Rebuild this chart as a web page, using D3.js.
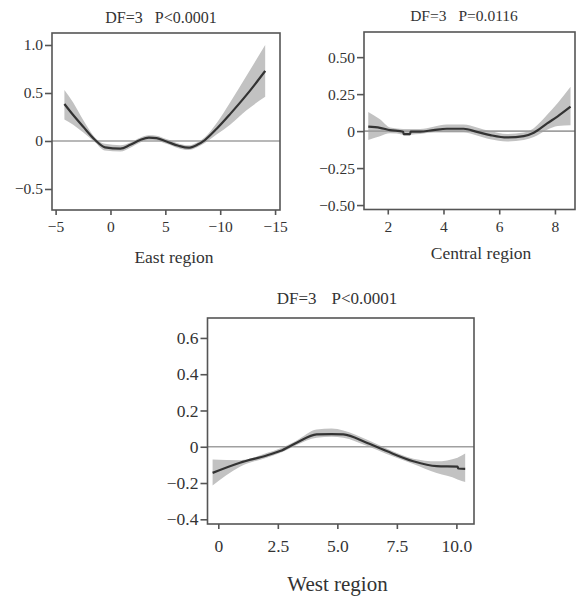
<!DOCTYPE html>
<html>
<head>
<meta charset="utf-8">
<script src="https://cdn.jsdelivr.net/npm/d3@7"></script>
<style>
  html, body { margin: 0; padding: 0; background: #fff; }
  svg { display: block; }
  text { font-family: "Liberation Serif", "Times New Roman", serif; fill: #333; }
</style>
</head>
<body>
<svg id="chart" width="576" height="597"></svg>
<script>
// ---------- East region ----------
const eastX   = [-4.2, -3.4, -2.5, -1.4, -0.5, 0.9, 1.8, 2.7, 3.5, 4.2, 5.1, 6.2, 7.1, 7.9, 8.6, 9.7, 10.9, 12.4, 14.1];
const eastFit = [0.385, 0.27, 0.15, 0.01, -0.066, -0.08, -0.04, 0.01, 0.035, 0.03, -0.005, -0.05, -0.07, -0.04, 0.01, 0.13, 0.28, 0.48, 0.73];
const eastHi  = [0.53, 0.40, 0.22, 0.035, -0.03, -0.045, -0.015, 0.035, 0.06, 0.055, 0.02, -0.025, -0.045, -0.015, 0.04, 0.19, 0.40, 0.68, 1.0];
const eastLo  = [0.225, 0.17, 0.09, -0.015, -0.1, -0.11, -0.07, -0.015, 0.01, 0.005, -0.03, -0.075, -0.095, -0.065, -0.02, 0.07, 0.17, 0.32, 0.46];
const eastXTicks = [-5, 0, 5, 10, 15];
const eastXLabels = ["\u22125", "0", "5", "\u221210", "\u221215"];
const eastYTicks = [1.0, 0.5, 0, -0.5];
const eastYLabels = ["1.0", "0.5", "0", "\u22120.5"];

// ---------- Central region ----------
const centX   = [1.3, 1.72, 2.08, 2.55, 2.57, 2.8, 2.82, 3.16, 3.64, 4.12, 4.72, 5.2, 5.68, 6.28, 6.88, 7.24, 7.72, 8.1, 8.56];
const centFit = [0.03, 0.022, 0.007, -0.004, -0.02, -0.02, -0.004, -0.004, 0.007, 0.016, 0.016, -0.005, -0.027, -0.043, -0.034, -0.011, 0.052, 0.1, 0.165];
const centHi  = [0.13, 0.08, 0.025, 0.015, 0.015, 0.015, 0.015, 0.015, 0.03, 0.045, 0.045, 0.025, 0.0, -0.02, -0.01, 0.02, 0.11, 0.19, 0.30];
const centLo  = [-0.06, -0.035, -0.015, -0.025, -0.03, -0.03, -0.025, -0.02, -0.01, -0.01, -0.01, -0.03, -0.055, -0.07, -0.06, -0.04, 0.01, 0.035, 0.04];
const centXTicks = [2, 4, 6, 8];
const centXLabels = ["2", "4", "6", "8"];
const centYTicks = [0.5, 0.25, 0, -0.25, -0.5];
const centYLabels = ["0.50", "0.25", "0", "\u22120.25", "\u22120.50"];

// ---------- West region ----------
const westX   = [-0.24, 0.91, 2.03, 2.59, 3.29, 4.13, 4.76, 5.25, 6.23, 7.07, 8.19, 9.17, 10.05, 10.08, 10.37];
const westFit = [-0.144, -0.088, -0.048, -0.024, 0.022, 0.068, 0.07, 0.068, 0.022, -0.024, -0.08, -0.107, -0.11, -0.12, -0.122];
const westHi  = [-0.07, -0.074, -0.035, -0.01, 0.035, 0.095, 0.1, 0.09, 0.04, -0.01, -0.066, -0.08, -0.06, -0.058, -0.037];
const westLo  = [-0.214, -0.11, -0.06, -0.035, 0.01, 0.05, 0.055, 0.05, 0.005, -0.04, -0.095, -0.145, -0.18, -0.182, -0.195];
const westXTicks = [0, 2.5, 5, 7.5, 10];
const westXLabels = ["0", "2.5", "5.0", "7.5", "10.0"];
const westYTicks = [0.6, 0.4, 0.2, 0, -0.2, -0.4];
const westYLabels = ["0.6", "0.4", "0.2", "0", "\u22120.2", "\u22120.4"];

const titles = ["DF=3", "P<0.0001", "DF=3", "P=0.0116", "DF=3", "P<0.0001"];
const regionNames = ["East region", "Central region", "West region"];

const svg = d3.select("#chart");

function drawPanel(o) {
  const x = d3.scaleLinear().domain(o.xDomain).range([o.left, o.right]);
  const y = d3.scaleLinear().domain(o.yDomain).range([o.bottom, o.top]);
  const g = svg.append("g");
  const rows = o.xs.map((v, i) => ({ x: v, f: o.fit[i], lo: o.lo[i], hi: o.hi[i] }));

  g.append("path")
    .attr("d", d3.area().x(d => x(d.x)).y0(d => y(d.lo)).y1(d => y(d.hi)).curve(d3.curveMonotoneX)(rows))
    .attr("fill", "#c2c2c2");

  g.append("line")
    .attr("x1", o.left).attr("x2", o.right)
    .attr("y1", y(0)).attr("y2", y(0))
    .attr("stroke", "#a0a0a0").attr("stroke-width", 1.6);

  g.append("path")
    .attr("d", d3.line().x(d => x(d.x)).y(d => y(d.f)).curve(d3.curveMonotoneX)(rows))
    .attr("fill", "none").attr("stroke", "#333").attr("stroke-width", 2.2);

  g.append("rect")
    .attr("x", o.left).attr("y", o.top)
    .attr("width", o.right - o.left).attr("height", o.bottom - o.top)
    .attr("fill", "none").attr("stroke", "#555").attr("stroke-width", 1.6);

  const xa = g.append("g").attr("transform", `translate(0,${o.bottom})`)
    .call(d3.axisBottom(x).tickValues(o.xTicks).tickSize(5).tickPadding(o.xPad)
      .tickFormat((d, i) => o.xLabels[i]));
  const ya = g.append("g").attr("transform", `translate(${o.left},0)`)
    .call(d3.axisLeft(y).tickValues(o.yTicks).tickSize(7).tickPadding(2)
      .tickFormat((d, i) => o.yLabels[i]));
  [xa, ya].forEach(a => {
    a.attr("font-size", o.tickSize).attr("font-family", null);
    a.select(".domain").remove();
    a.selectAll(".tick line").attr("stroke", "#555").attr("stroke-width", 1.6);
    a.selectAll("text").style("fill", "#333").style("font-size", o.tickSize + "px");
  });

  const t = g.append("text")
    .attr("x", o.titleX).attr("y", o.titleY)
    .attr("text-anchor", "middle").style("font-size", o.titleSize + "px");
  t.append("tspan").text(o.title[0]);
  t.append("tspan").attr("dx", o.titleGap).text(o.title[1]);

  g.append("text")
    .attr("x", o.labelX).attr("y", o.labelY)
    .attr("text-anchor", "middle").style("font-size", o.labelSize + "px")
    .text(o.label);
}

drawPanel({
  xs: eastX, fit: eastFit, lo: eastLo, hi: eastHi,
  xDomain: [-5.33, 15.45], yDomain: [-0.719, 1.125],
  left: 52, right: 280, top: 33, bottom: 210,
  xTicks: eastXTicks, xLabels: eastXLabels, yTicks: eastYTicks, yLabels: eastYLabels,
  xPad: 6, tickSize: 15.5,
  title: [titles[0], titles[1]], titleX: 161, titleY: 23, titleSize: 16, titleGap: 12,
  label: regionNames[0], labelX: 174, labelY: 263, labelSize: 17.5
});

drawPanel({
  xs: centX, fit: centFit, lo: centLo, hi: centHi,
  xDomain: [1.147, 8.72], yDomain: [-0.53, 0.67],
  left: 364, right: 575, top: 32, bottom: 209.5,
  xTicks: centXTicks, xLabels: centXLabels, yTicks: centYTicks, yLabels: centYLabels,
  xPad: 6, tickSize: 15.5,
  title: [titles[2], titles[3]], titleX: 464, titleY: 21, titleSize: 15.5, titleGap: 12,
  label: regionNames[1], labelX: 481, labelY: 259, labelSize: 17.5
});

drawPanel({
  xs: westX, fit: westFit, lo: westLo, hi: westHi,
  xDomain: [-0.454, 10.74], yDomain: [-0.426, 0.71],
  left: 207.5, right: 474, top: 318, bottom: 524,
  xTicks: westXTicks, xLabels: westXLabels, yTicks: westYTicks, yLabels: westYLabels,
  xPad: 11, tickSize: 17.5,
  title: [titles[4], titles[5]], titleX: 337, titleY: 304, titleSize: 17, titleGap: 15,
  label: regionNames[2], labelX: 337.5, labelY: 591, labelSize: 21
});
</script>
</body>
</html>
